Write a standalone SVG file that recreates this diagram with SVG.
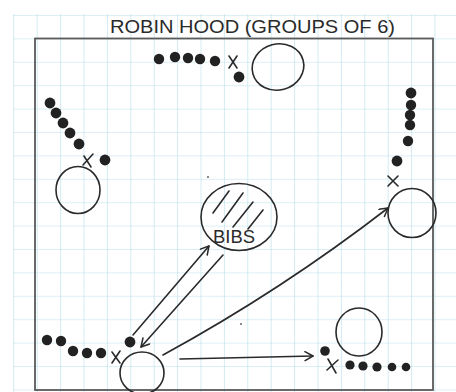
<svg xmlns="http://www.w3.org/2000/svg" width="456" height="392" viewBox="0 0 456 392">
  <style>
    .ink { fill: none; stroke: #2a2a2a; stroke-width: 1.6; stroke-linecap: round; stroke-linejoin: round; }
    .dot { fill: #222; }
    .frame { fill: none; stroke: #5a5a5a; stroke-width: 1.8; }
    .label { font-family: "Liberation Sans", Arial, sans-serif; fill: #2a2a2a; }
  </style>
  <defs>
    <pattern id="grid" x="13.3" y="15" width="23.4" height="23.4" patternUnits="userSpaceOnUse">
      <path d="M0,0 L23.4,0 M0,0 L0,23.4" fill="none" stroke="#b8dfe9" stroke-width="1.2"/>
    </pattern>
    <marker id="arrow" markerWidth="12" markerHeight="12" refX="9" refY="5" orient="auto" markerUnits="userSpaceOnUse">
      <path d="M1,0.5 L9,5 L1,9.5" fill="none" stroke="#2a2a2a" stroke-width="1.5" stroke-linecap="round" stroke-linejoin="round"/>
    </marker>
  </defs>

  <rect x="0" y="0" width="456" height="392" fill="#ffffff"/>
  <rect x="13" y="14" width="443" height="378" fill="url(#grid)"/>

  <!-- title -->
  <text class="label" x="110" y="32.5" font-size="18" textLength="285" lengthAdjust="spacingAndGlyphs">ROBIN HOOD (GROUPS OF 6)</text>

  <!-- pitch frame -->
  <rect class="frame" x="35" y="38.5" width="398" height="351.5"/>

  <!-- stray pencil specks -->
  <circle cx="208" cy="177" r="0.9" fill="#555"/>
  <circle cx="241" cy="324" r="0.9" fill="#555"/>

  <g id="group-top">
    <circle class="dot" cx="159" cy="59" r="5.2"/>
    <circle class="dot" cx="175" cy="57" r="5.2"/>
    <circle class="dot" cx="188" cy="58" r="5.2"/>
    <circle class="dot" cx="200" cy="59" r="5.2"/>
    <circle class="dot" cx="215" cy="61" r="5.2"/>
    <circle class="dot" cx="239" cy="77" r="5.4"/>
    <path class="ink" d="M229,56 L237,68 M237,56 L229,68"/>
    <ellipse class="ink" cx="278" cy="67" rx="26" ry="23" transform="rotate(-15 278 67)"/>
  </g>

  <g id="group-left">
    <circle class="dot" cx="50" cy="103" r="5.4"/>
    <circle class="dot" cx="56" cy="113" r="5.4"/>
    <circle class="dot" cx="63" cy="123" r="5.4"/>
    <circle class="dot" cx="70" cy="133" r="5.4"/>
    <circle class="dot" cx="79" cy="144" r="5.4"/>
    <circle class="dot" cx="105" cy="160" r="5.4"/>
    <path class="ink" d="M84,156 L91,167 M93,154 L83,165"/>
    <ellipse class="ink" cx="78" cy="190" rx="22" ry="23.5"/>
  </g>

  <g id="group-right">
    <circle class="dot" cx="411" cy="93" r="5.4"/>
    <circle class="dot" cx="411" cy="105" r="5.2"/>
    <circle class="dot" cx="410" cy="115" r="5.2"/>
    <circle class="dot" cx="410" cy="125" r="5.2"/>
    <circle class="dot" cx="408" cy="141" r="5.2"/>
    <circle class="dot" cx="397" cy="161" r="5.4"/>
    <path class="ink" d="M388,176 L398,186 M398,176 L388,186"/>
    <ellipse class="ink" cx="412" cy="213" rx="24" ry="24.5"/>
  </g>

  <g id="bibs">
    <ellipse class="ink" cx="239" cy="217" rx="38" ry="33.5"/>
    <path class="ink" d="M213,213 L229,191 M222,222 L243,193 M233,227 L253,202 M248,229 L263,210"/>
    <text class="label" x="234" y="243" font-size="18" text-anchor="middle" textLength="42" lengthAdjust="spacingAndGlyphs">BIBS</text>
  </g>

  <g id="group-bottom-left">
    <circle class="dot" cx="47" cy="340" r="5.2"/>
    <circle class="dot" cx="61" cy="341" r="5.2"/>
    <circle class="dot" cx="73" cy="351" r="5.2"/>
    <circle class="dot" cx="87" cy="353" r="5.2"/>
    <circle class="dot" cx="101" cy="353" r="5.2"/>
    <circle class="dot" cx="130" cy="342" r="5.4"/>
    <path class="ink" d="M112,352 L120,363 M120,351 L112,363"/>
    <ellipse class="ink" cx="142" cy="373" rx="22" ry="21"/>
  </g>

  <g id="group-bottom-right">
    <ellipse class="ink" cx="359" cy="332" rx="23" ry="24"/>
    <circle class="dot" cx="325" cy="351" r="4.8"/>
    <path class="ink" d="M328,359 L336,373 M338,360 L327,370"/>
    <circle class="dot" cx="350" cy="365" r="4.6"/>
    <circle class="dot" cx="363" cy="366" r="4.6"/>
    <circle class="dot" cx="377" cy="367" r="4.6"/>
    <circle class="dot" cx="392" cy="367" r="4.3"/>
    <circle class="dot" cx="406" cy="367" r="4.3"/>
  </g>

  <g id="connectors">
    <path class="ink" d="M133,335 L209,246" marker-end="url(#arrow)"/>
    <path class="ink" d="M223,255 L141,347" marker-end="url(#arrow)"/>
    <path class="ink" d="M163,355 Q282,290 388,208" marker-end="url(#arrow)"/>
    <path class="ink" d="M180,359 L313,356" marker-end="url(#arrow)"/>
  </g>
</svg>
